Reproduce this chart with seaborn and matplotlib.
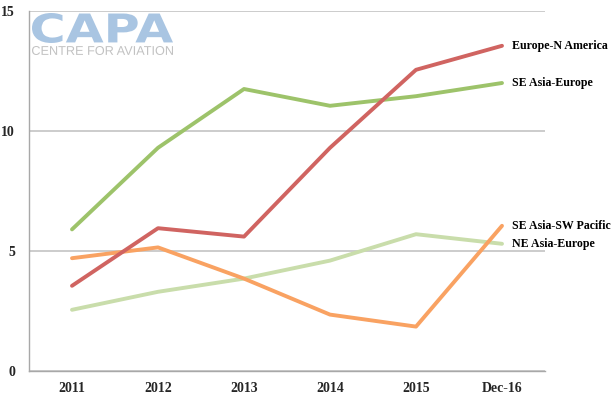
import numpy as np
import pandas as pd
import matplotlib
matplotlib.use("Agg")
import matplotlib.pyplot as plt
import seaborn as sns
from matplotlib.textpath import TextPath
from matplotlib.patches import PathPatch
from matplotlib.font_manager import FontProperties
from matplotlib.transforms import Affine2D

# Data
periods = ["2011", "2012", "2013", "2014", "2015", "Dec-16"]
europe_n_america = [3.55, 5.95, 5.6, 9.3, 12.55, 13.55]
se_asia_europe = [5.9, 9.3, 11.75, 11.05, 11.45, 12.0]
se_asia_sw_pacific = [4.7, 5.15, 3.85, 2.35, 1.85, 6.05]
ne_asia_europe = [2.55, 3.3, 3.85, 4.6, 5.7, 5.3]

series_names = ["SE Asia-Europe", "NE Asia-Europe", "SE Asia-SW Pacific", "Europe-N America"]
series_values = [se_asia_europe, ne_asia_europe, se_asia_sw_pacific, europe_n_america]
palette = {
    "Europe-N America": "#D06461",
    "SE Asia-Europe": "#9DC36A",
    "SE Asia-SW Pacific": "#F9A262",
    "NE Asia-Europe": "#C9DDAB",
}

df = pd.DataFrame(
    [(p, name, v) for name, vals in zip(series_names, series_values) for p, v in zip(periods, vals)],
    columns=["period", "route", "value"],
)

sns.set_style("white")
plt.rcParams["font.family"] = ["Liberation Serif", "DejaVu Serif"]

W, H, DPI = 616, 398, 100
fig = plt.figure(figsize=(W / DPI, H / DPI), dpi=DPI)
ax = fig.add_axes([29 / W, 27 / H, (545 - 29) / W, (371 - 11) / H])

sns.lineplot(data=df, x="period", y="value", hue="route", palette=palette,
             hue_order=series_names, linewidth=2.8, legend=False, ax=ax, sort=False)

# end-of-line labels
for name, vals in zip(series_names, series_values):
    ax.annotate(name, xy=(len(periods) - 1, vals[-1]), xytext=(7, 0),
                textcoords="offset points", va="center", ha="left",
                fontsize=8.6, fontweight="bold", color="black", annotation_clip=False)

ax.set_xlim(-0.5, len(periods) - 0.5)
ax.set_ylim(0, 15)
ax.set_yticks([0, 5, 10, 15])
ax.set_xticks(range(len(periods)))
ax.set_xticklabels(periods)
ax.set_xticks(np.arange(-0.5, len(periods), 1.0), minor=True)
ax.set_xlabel("")
ax.set_ylabel("")

ax.grid(axis="y", color="#C4C4C4", linewidth=1.2)
ax.grid(axis="x", visible=False)
ax.set_axisbelow(True)
for side in ["top", "right"]:
    ax.spines[side].set_visible(False)
for side in ["left", "bottom"]:
    ax.spines[side].set_color("#A8A8A8")
    ax.spines[side].set_linewidth(1.0)

ax.tick_params(axis="x", which="major", length=0, pad=8, labelsize=10)
ax.tick_params(axis="x", which="minor", length=3, color="#A8A8A8", direction="out")
ax.tick_params(axis="y", length=3, color="#A8A8A8", direction="out", pad=7, labelsize=10)
for lab in ax.get_xticklabels() + ax.get_yticklabels():
    lab.set_fontweight("bold")


def logo_text(text, x0, y0, x1, y1, color, weight, family):
    # fit a text path into a pixel box (top-left origin)
    path = TextPath((0, 0), text, size=10, prop=FontProperties(family=family, weight=weight))
    ext = path.get_extents()
    sx = (x1 - x0) / ext.width
    sy = (y1 - y0) / ext.height
    tr = (Affine2D().translate(-ext.x0, -ext.y0).scale(sx, sy)
          .translate(x0, H - y1).scale(1 / DPI))
    fig.add_artist(PathPatch(path, transform=tr + fig.dpi_scale_trans,
                             facecolor=color, edgecolor="none", zorder=5))


logo_text("CAPA", 32, 13, 173, 43, "#A9C5E2", "heavy", "DejaVu Sans")
logo_text("CENTRE FOR AVIATION", 32, 46, 173, 55, "#C2C2C2", "light", "Liberation Sans")

fig.savefig("out.png", dpi=DPI)
